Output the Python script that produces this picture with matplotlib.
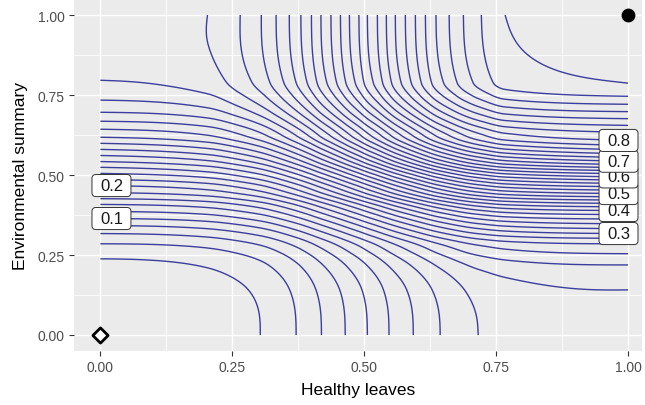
import numpy as np
import matplotlib
matplotlib.use("Agg")
import matplotlib.pyplot as plt
from matplotlib.patches import FancyBboxPatch

plt.rcParams['font.family'] = ['Liberation Sans', 'DejaVu Sans']

# where each contour level meets the four edges of the unit square
bottom_lvl = [0.02, 0.04, 0.06, 0.08, 0.10, 0.12, 0.14, 0.16, 0.18]
bottom_x = [0.303, 0.371, 0.419, 0.464, 0.506, 0.547, 0.593, 0.644, 0.716]

left_lvl = [0.02, 0.04, 0.06, 0.08, 0.10, 0.12, 0.14, 0.16, 0.18, 0.20, 0.22, 0.24,
            0.26, 0.28, 0.30, 0.32, 0.34, 0.36, 0.38, 0.40, 0.42, 0.44, 0.46]
left_y = [0.238, 0.285, 0.317, 0.342, 0.364, 0.386, 0.408, 0.426, 0.445, 0.467, 0.486, 0.505,
          0.524, 0.542, 0.561, 0.580, 0.599, 0.618, 0.643, 0.668, 0.696, 0.734, 0.796]

top_lvl = [0.48, 0.50, 0.52, 0.54, 0.56, 0.58, 0.60, 0.62, 0.64, 0.66, 0.68, 0.70,
           0.72, 0.74, 0.76, 0.78, 0.80, 0.82, 0.84, 0.86, 0.88, 0.90, 0.92, 0.94]
top_x = [0.203, 0.265, 0.305, 0.333, 0.358, 0.380, 0.400, 0.418, 0.437, 0.455, 0.472, 0.490,
         0.506, 0.525, 0.542, 0.559, 0.578, 0.597, 0.616, 0.636, 0.661, 0.688, 0.722, 0.767]

right_lvl = [0.20, 0.22, 0.24, 0.26, 0.30, 0.40, 0.50, 0.60, 0.70, 0.80,
             0.82, 0.84, 0.86, 0.88, 0.90, 0.92, 0.94]
right_y = [0.141, 0.219, 0.254, 0.285, 0.317, 0.389, 0.442, 0.494, 0.543, 0.608,
           0.633, 0.655, 0.676, 0.698, 0.721, 0.746, 0.787]

# surface value at the corners (0,0), (1,0), (0,1), (1,1)
f00, f10, f01, f11 = 0.0, 0.195, 0.472, 0.946

levels = np.round(np.arange(0.02, 0.95, 0.02), 2)
left_labels = [0.1, 0.2]
right_labels = [0.3, 0.4, 0.5, 0.6, 0.7, 0.8]


def mono_cubic(xk, yk, x):
    # monotone cubic hermite (Fritsch-Carlson limits), flat at both ends
    xk = np.asarray(xk, float)
    yk = np.asarray(yk, float)
    h = np.diff(xk)
    d = np.diff(yk) / h
    m = np.zeros_like(yk)
    for i in range(1, len(xk) - 1):
        if d[i - 1] * d[i] > 0:
            m[i] = min((d[i - 1] + d[i]) / 2, 3 * d[i - 1], 3 * d[i])
    i = np.clip(np.searchsorted(xk, x) - 1, 0, len(xk) - 2)
    t = (x - xk[i]) / h[i]
    return ((2 * t**3 - 3 * t**2 + 1) * yk[i] + (t**3 - 2 * t**2 + t) * h[i] * m[i]
            + (-2 * t**3 + 3 * t**2) * yk[i + 1] + (t**3 - t**2) * h[i] * m[i + 1])


def profile(pos, lvl, lo, hi, t):
    p = mono_cubic([0] + pos + [1], [lo] + lvl + [hi], t)
    return (p - lo) / (hi - lo)


g = np.linspace(0, 1, 401)
X, Y = np.meshgrid(g, g)
sb = profile(bottom_x, bottom_lvl, f00, f10, X)
st = profile(top_x, top_lvl, f01, f11, X)
sl = profile(left_y, left_lvl, f00, f01, Y)
sr = profile(right_y, right_lvl, f10, f11, Y)
sx = (1 - Y) * sb + Y * st
sy = (1 - X) * sl + X * sr
Z = f00 + (f10 - f00) * sx + (f01 - f00) * sy + (f11 - f10 - f01 + f00) * sx * sy

fig = plt.figure(figsize=(6.45, 4.06), dpi=100)
ax = fig.add_axes([74 / 645, 54 / 406, 568 / 645, 352 / 406])
ax.set_facecolor("#EBEBEB")
for s in ax.spines.values():
    s.set_visible(False)

ticks = [0, 0.25, 0.5, 0.75, 1]
tick_labels = ["0.00", "0.25", "0.50", "0.75", "1.00"]
ax.set_xticks(ticks)
ax.set_xticklabels(tick_labels)
ax.set_yticks(ticks)
ax.set_yticklabels(tick_labels)
ax.set_xticks([0.125, 0.375, 0.625, 0.875], minor=True)
ax.set_yticks([0.125, 0.375, 0.625, 0.875], minor=True)
ax.grid(which="major", color="white", lw=1.07)
ax.grid(which="minor", color="white", lw=0.55)
ax.set_axisbelow(True)
ax.tick_params(which="major", length=3.5, width=0.8, color="#333333", labelsize=10,
               labelcolor="#4D4D4D", pad=3)
ax.tick_params(which="minor", length=0)

ax.contour(X, Y, Z, levels=levels, colors="#3d3d9e", linewidths=1.0)

# ideal and anti-ideal points
ax.scatter([1], [1], s=80, color="black", zorder=5)
ax.scatter([0], [0], s=60, marker="D", facecolor="white", edgecolor="black", linewidths=2, zorder=5)

xlim = (-0.05, (642 - 100) / 528)
ylim = (-0.05, 1.05)
ax.set_xlim(xlim)
ax.set_ylim(ylim)

# label boxes: 39 x 22 px, rounded corners
px_x = 528.0
px_y = 319.0
bw, bh = 39 / px_x, 22 / px_y


def put_label(x, y, txt, z):
    ax.add_patch(FancyBboxPatch((x - bw / 2, y - bh / 2), bw, bh,
                                boxstyle="round,pad=0,rounding_size=%f" % (4 / px_x),
                                mutation_aspect=px_x / px_y, fc="white", ec="#333333",
                                lw=0.7, zorder=z))
    ax.text(x, y, txt, ha="center", va="center", fontsize=12, color="#1a1a1a", zorder=z + 0.005)


for k, v in enumerate(left_labels):
    put_label(0.021, np.interp(v, left_lvl, left_y), f"{v:.1f}", 6 + k * 0.01)
for k, v in enumerate(right_labels):
    put_label(0.982, np.interp(v, right_lvl, right_y), f"{v:.1f}", 6 + k * 0.01)

ax.set_xlabel("Healthy leaves", fontsize=12.5, labelpad=6)
ax.set_ylabel("Environmental summary", fontsize=12.5, labelpad=7)

fig.savefig("out.png", dpi=100)
